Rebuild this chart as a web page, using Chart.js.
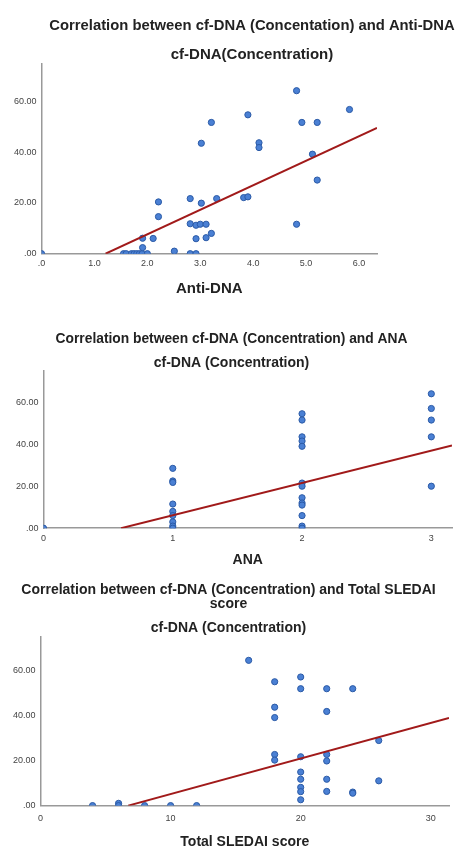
<!DOCTYPE html>
<html>
<head>
<meta charset="utf-8">
<script src="https://cdn.jsdelivr.net/npm/chart.js@4"></script>
<style>
  html, body { margin: 0; padding: 0; background: #fff; overflow: hidden; width: 456px; height: 847px; }
  .panel { position: absolute; left: 0; }
</style>
</head>
<body>
<div class="panel" style="top:0px"><canvas id="c1" width="495" height="302"></canvas></div>
<div class="panel" style="top:320px"><canvas id="c2" width="462" height="253"></canvas></div>
<div class="panel" style="top:575px"><canvas id="c3" width="456" height="276"></canvas></div>
<script>
// cf-DNA vs Anti-DNA
const antiDnaX = [0, 1.55, 1.6, 1.7, 1.75, 1.8, 1.85, 1.9, 2.0, 1.91, 1.91, 2.11, 2.21, 2.21, 2.51,
  2.81, 2.92, 2.81, 2.81, 2.92, 3.0, 3.11, 2.92, 3.02, 3.02, 3.21, 3.11, 3.21, 3.31, 3.82, 3.9, 3.9,
  4.82, 5.82, 4.92, 5.21, 4.11, 4.11, 5.12, 5.21, 4.82];
const antiDnaY = [0, 0, 0, 0, 0, 0, 0, 0, 0, 2.4, 6.1, 6, 20.4, 14.6, 1,
  0, 0, 21.7, 11.8, 11.2, 11.6, 11.6, 5.9, 19.9, 43.5, 51.7, 6.3, 8, 21.7, 22.1, 22.4, 54.7,
  64.2, 56.8, 51.7, 51.7, 43.7, 41.8, 39.2, 29, 11.6];
const antiDnaFitX = [1.21, 6.34];
const antiDnaFitY = [0, 49.5];

// cf-DNA vs ANA
const anaX = [0, 1, 1, 1, 1, 1, 1, 1, 1, 1,
  2, 2, 2, 2, 2, 2, 2, 2, 2, 2, 2, 2, 2,
  3, 3, 3, 3, 3];
const anaY = [0, 28.5, 22.5, 21.8, 11.5, 8, 6, 3, 1, 0,
  54.5, 51.5, 43.5, 41.5, 39, 21.5, 20, 14.5, 12, 11, 6, 1, 0,
  64, 57, 51.5, 43.5, 20];
const anaFitX = [0.6, 3.16];
const anaFitY = [0, 39.4];

// cf-DNA vs Total SLEDAI score
const sledaiX = [4, 6, 6, 8, 10, 12, 16,
  18, 18, 18, 18, 18,
  20, 20, 20, 20, 20, 20, 20, 20,
  22, 22, 22, 22, 22, 22,
  24, 24, 24, 26, 26];
const sledaiY = [0, 1, 0, 0, 0, 0, 64.5,
  55, 43.7, 39.1, 22.7, 20.2,
  57.1, 51.9, 21.7, 14.9, 11.7, 8.1, 6.2, 2.6,
  51.9, 41.8, 22.7, 19.8, 11.7, 6.3,
  51.9, 6, 5.5, 28.9, 11];
const sledaiFitX = [6.74, 31.4];
const sledaiFitY = [0, 38.9];

const yTicks = [0, 20, 40, 60];

const FONT = 'Liberation Sans, Arial';
const pts = (xs, ys) => xs.map((x, i) => ({ x: x, y: ys[i] }));

function makeChart(id, cfg) {
  const scales = {
    x: {
      type: 'linear',
      min: 0,
      max: cfg.xMax,
      grid: { display: false, drawTicks: false },
      border: { color: '#999', width: 1.5 },
      ticks: {
        stepSize: cfg.xStep,
        includeBounds: false,
        padding: cfg.xTickPad,
        color: '#444',
        font: { family: FONT, size: 9 },
        callback: cfg.xFmt
      },
      title: {
        display: true,
        text: cfg.xTitle,
        color: '#222',
        font: { family: FONT, size: cfg.xTitleSize, weight: 'bold', lineHeight: 1 },
        padding: cfg.xTitlePad
      }
    },
    y: {
      min: 0,
      max: 75,
      afterBuildTicks: axis => { axis.ticks = yTicks.map(v => ({ value: v })); },
      grid: { display: false, drawTicks: false },
      border: { color: '#999', width: 1.5 },
      ticks: {
        padding: 5,
        color: '#444',
        font: { family: FONT, size: 9 },
        callback: v => v === 0 ? '.00' : v.toFixed(2)
      }
    }
  };
  if (cfg.rightGap) {
    // empty space right of the plot, as in the SPSS output
    scales.gap = {
      position: 'right',
      grid: { display: false, drawTicks: false },
      border: { display: false },
      ticks: { display: false },
      afterFit: s => { s.width = cfg.rightGap; }
    };
  }
  new Chart(document.getElementById(id), {
    type: 'scatter',
    data: {
      datasets: [
        {
          data: pts(cfg.x, cfg.y),
          backgroundColor: '#4a80d4',
          borderColor: '#2b5aa6',
          borderWidth: 1,
          pointRadius: 3.1,
          order: 2
        },
        {
          type: 'line',
          data: pts(cfg.fitX, cfg.fitY),
          borderColor: '#a11a1a',
          borderWidth: 2,
          pointRadius: 0,
          fill: false,
          order: 1
        }
      ]
    },
    options: {
      responsive: false,
      animation: false,
      layout: { padding: cfg.pad },
      plugins: {
        legend: { display: false },
        tooltip: { enabled: false },
        title: {
          display: true,
          text: cfg.title,
          color: '#222',
          font: { family: FONT, size: cfg.titleSize, weight: 'bold', lineHeight: cfg.titleLh },
          padding: cfg.titlePad
        },
        subtitle: {
          display: true,
          text: cfg.sub,
          color: '#222',
          font: { family: FONT, size: cfg.subSize, weight: 'bold', lineHeight: 1.1 },
          padding: cfg.subPad
        }
      },
      scales: scales
    }
  });
}

makeChart('c1', {
  x: antiDnaX, y: antiDnaY, fitX: antiDnaFitX, fitY: antiDnaFitY,
  title: 'Correlation between cf-DNA (Concentation) and Anti-DNA',
  titleSize: 14.8, titleLh: 1.1,
  titlePad: { top: 18, bottom: 12.5 },
  sub: 'cf-DNA(Concentration)',
  subSize: 15,
  subPad: { top: 0, bottom: 0 },
  xMax: 6.34, xStep: 1,
  xFmt: v => v === 0 ? '.0' : v.toFixed(1),
  xTickPad: 4.5,
  xTitle: 'Anti-DNA', xTitleSize: 15,
  xTitlePad: { top: 8, bottom: 5.5 },
  rightGap: 118,
  pad: { left: 9, right: 0, top: 0, bottom: 0 }
});

makeChart('c2', {
  x: anaX, y: anaY, fitX: anaFitX, fitY: anaFitY,
  title: 'Correlation between cf-DNA (Concentration) and ANA',
  titleSize: 13.8, titleLh: 1.1,
  titlePad: { top: 11.5, bottom: 8.6 },
  sub: 'cf-DNA (Concentration)',
  subSize: 14,
  subPad: { top: 0, bottom: 0 },
  xMax: 3.16, xStep: 1,
  xFmt: v => String(v),
  xTickPad: 5,
  xTitle: 'ANA', xTitleSize: 14,
  xTitlePad: { top: 4, bottom: 6 },
  pad: { left: 11, right: 10, top: 0, bottom: 0 }
});

makeChart('c3', {
  x: sledaiX, y: sledaiY, fitX: sledaiFitX, fitY: sledaiFitY,
  title: ['Correlation between cf-DNA (Concentration) and Total SLEDAI', 'score'],
  titleSize: 14, titleLh: 1.0,
  titlePad: { top: 8, bottom: 9 },
  sub: 'cf-DNA (Concentration)',
  subSize: 14,
  subPad: { top: 0, bottom: 1.3 },
  xMax: 31.4, xStep: 10,
  xFmt: v => String(v),
  xTickPad: 7.3,
  xTitle: 'Total SLEDAI score', xTitleSize: 14,
  xTitlePad: { top: 4, bottom: 2 },
  pad: { left: 8, right: 7, top: 0, bottom: 0 }
});
</script>
</body>
</html>
